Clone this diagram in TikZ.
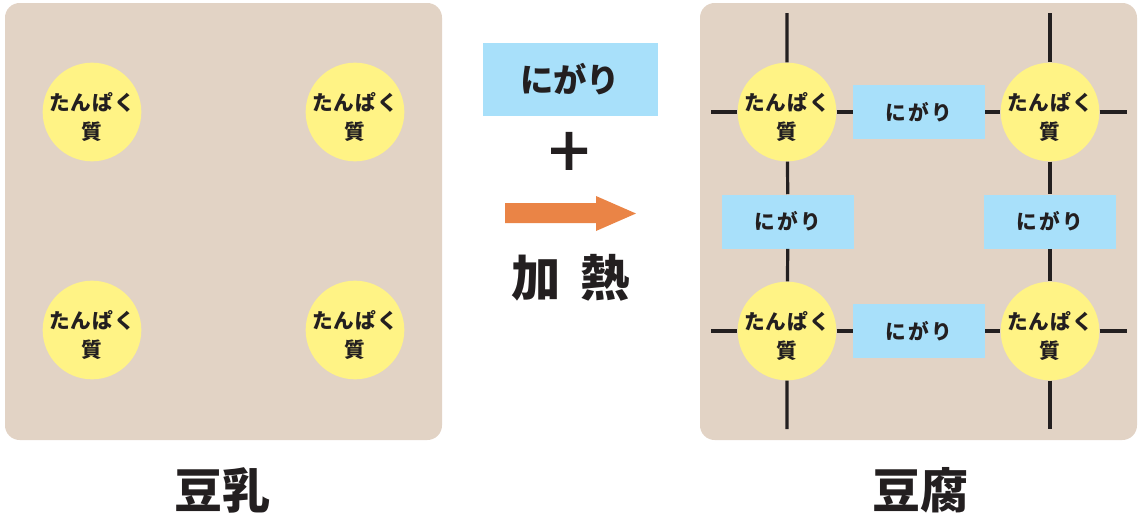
\documentclass[tikz,border=0pt]{standalone}
\usepackage{fontspec}
\setmainfont{Noto Sans CJK JP}
\usepackage{tikz}
\usetikzlibrary{calc}
\definecolor{milkbg}{HTML}{E2D3C5}
\definecolor{protein}{HTML}{FFF385}
\definecolor{nigari}{HTML}{A8E0FA}
\definecolor{heat}{HTML}{EA8446}
\definecolor{ink}{HTML}{231F20}
% two-line label, lowered a little inside the ball
\newcommand{\prot}{\raisebox{-9pt}[0pt][0pt]{\begin{tabular}{@{}c@{}}たんぱく\\質\end{tabular}}}

\begin{document}
\begin{tikzpicture}[x=0.75pt, y=-0.75pt,
  protball/.style={circle, fill=protein, minimum size=74pt, inner sep=0pt, text=ink,
    font=\fontsize{15.5}{21.8}\selectfont\bfseries\addfontfeatures{LetterSpace=5}},
  nigaribox/.style={fill=nigari, minimum width=99pt, minimum height=40.5pt, inner sep=0pt, text=ink,
    font=\fontsize{15.5}{17}\selectfont\bfseries\addfontfeatures{LetterSpace=11}},
  bond/.style={ink, line width=2.4pt},
  biglabel/.style={text=ink, font=\fontsize{36}{40}\selectfont\bfseries}]
  \useasboundingbox (0,0) rectangle (1143,518);

  % soy milk (left panel)
  \fill[milkbg, rounded corners=11pt] (5,3) rectangle (442,440);
  \node[protball] (m1) at (92,112) {\prot};
  \node[protball] (m2) at (355,112) {\prot};
  \node[protball] (m3) at (92,330) {\prot};
  \node[protball] (m4) at (355,330) {\prot};
  \node[biglabel] (milk) at (222,490) {豆乳};

  % middle: nigari + heat
  \node[fill=nigari, minimum width=131pt, minimum height=55pt, inner sep=0pt, text=ink,
    font=\fontsize{25}{28}\selectfont\bfseries] (nig) at (570.5,79.5) {にがり};
  \node[text=ink, font=\fontsize{54}{56}\selectfont\addfontfeatures{FakeBold=2}] (plus) at (569,155) {+};
  \fill[heat] (505,203) -- (596,203) -- (596,196) -- (636,213.5) -- (596,231) -- (596,223) -- (505,223) -- cycle;
  \node[biglabel, font=\fontsize{37}{40}\selectfont\bfseries] (heat) at (571,278) {加\hspace{0.4em}熱};

  % tofu (right panel)
  \fill[milkbg, rounded corners=11pt] (700,3) rectangle (1137,440);
  \node[protball] (p1) at (787,112) {\prot};
  \node[protball] (p2) at (1050,112) {\prot};
  \node[protball] (p3) at (787,331) {\prot};
  \node[protball] (p4) at (1050,331) {\prot};
  \node[nigaribox] (nt) at (919,112) {にがり};
  \node[nigaribox] (nb) at (919,331) {にがり};
  \node[nigaribox] (nl) at (788,221.5) {にがり};
  \node[nigaribox] (nr) at (1050,221.5) {にがり};
  \coordinate (t1) at (787,13);
  \coordinate (t2) at (1050,13);
  \coordinate (b1) at (787,429);
  \coordinate (b2) at (1050,429);
  \coordinate (l1) at (711,112);
  \coordinate (l3) at (711,331);
  \coordinate (r2) at (1127,112);
  \coordinate (r4) at (1127,331);
  % network bonds
  \draw[bond] (t1) -- (p1) (p1) -- (nl) (nl) -- (p3) (p3) -- (b1);
  \draw[bond] (t2) -- (p2) (p2) -- (nr) (nr) -- (p4) (p4) -- (b2);
  \draw[bond] (l1) -- (p1) (p1) -- (nt) (nt) -- (p2) (p2) -- (r2);
  \draw[bond] (l3) -- (p3) (p3) -- (nb) (nb) -- (p4) (p4) -- (r4);
  \node[biglabel] (tofu) at (920,490) {豆腐};
\end{tikzpicture}
\end{document}
